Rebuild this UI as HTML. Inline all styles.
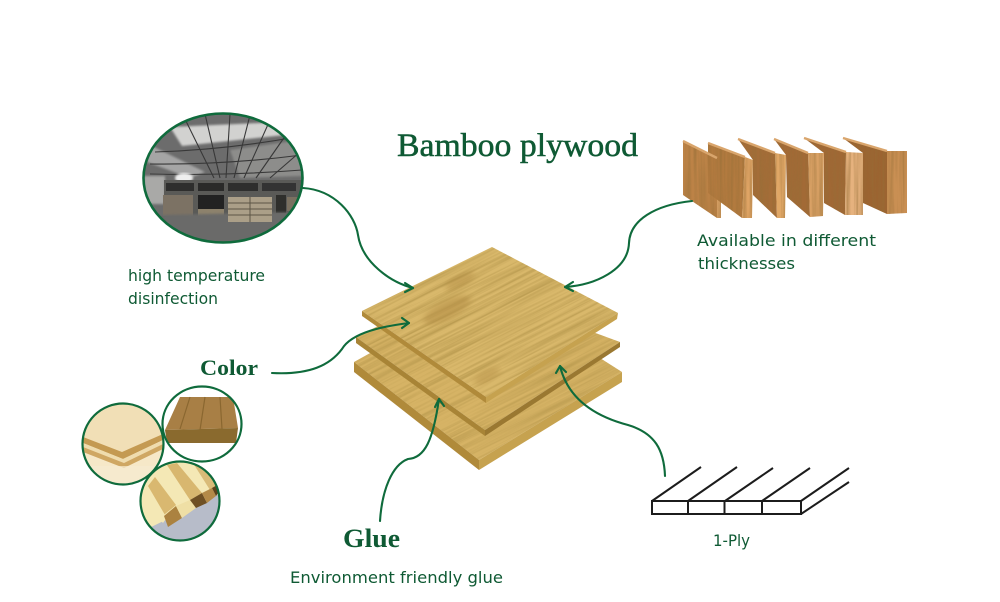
<!DOCTYPE html>
<html>
<head>
<meta charset="utf-8">
<style>
html,body{margin:0;padding:0;background:#fff;width:1000px;height:602px;overflow:hidden}
svg{display:block}
.h{font-family:"DejaVu Sans","Liberation Sans",sans-serif;font-size:16px;fill:#0f5a34}
.s{font-family:"Liberation Serif",serif;fill:#0f5a34}
.a{fill:none;stroke:#0f6b3c;stroke-width:2.1;stroke-linecap:round;stroke-linejoin:round}
.ply{fill:none;stroke:#1c1c1c;stroke-width:2}
</style>
</head>
<body>
<svg width="1000" height="602" viewBox="0 0 1000 602" xmlns="http://www.w3.org/2000/svg">
<defs>
<filter id="grain" x="0" y="0" width="100%" height="100%">
  <feTurbulence type="fractalNoise" baseFrequency="0.008 0.4" numOctaves="3" seed="4"/>
  <feColorMatrix values="0 0 0 0 0.45  0 0 0 0 0.30  0 0 0 0 0.07  2 0 0 0 -0.72"/>
</filter>
<filter id="vgrain" x="0" y="0" width="100%" height="100%">
  <feTurbulence type="fractalNoise" baseFrequency="0.35 0.012" numOctaves="2" seed="7"/>
  <feColorMatrix values="0 0 0 0 0.3  0 0 0 0 0.16  0 0 0 0 0.04  2 0 0 0 -0.72"/>
</filter>
<filter id="blur1"><feGaussianBlur stdDeviation="1"/></filter>
<filter id="blur3"><feGaussianBlur stdDeviation="3"/></filter>
<clipPath id="top"><polygon points="492,247 618,313 486,397 362,311"/></clipPath>
<clipPath id="mid"><polygon points="356,337 380,325 486,397 590,331 620,342 485,430"/></clipPath>
<clipPath id="bot"><polygon points="354,362 372,352 485,432 600,358 622,372 479,460"/></clipPath>
<clipPath id="c0"><ellipse cx="223" cy="178" rx="79" ry="64"/></clipPath>
<clipPath id="c1"><circle cx="123" cy="444" r="40"/></clipPath>
<clipPath id="c2"><ellipse cx="202" cy="424" rx="39" ry="37"/></clipPath>
<clipPath id="c3"><circle cx="180" cy="501" r="39"/></clipPath>
<clipPath id="planks"><path d="M683,141 L717,158 L721,160 L721,218 L717,218 L683,195Z M708,143 L745,157 L753,160 L752,218 L742,218 L708,193Z M738,139 L775,153 L786,155 L785,218 L777,218 L753,195 L753,160Z M774,139 L808,153 L824,153 L823,216 L810,217 L787,197 L786,155Z M804,138 L846,152 L863,153 L863,215 L845,215 L824,203 L824,153Z M843,138 L887,151 L907,151 L907,213 L887,214 L863,203 L863,153Z"/></clipPath>
</defs>

<rect width="1000" height="602" fill="#fff"/>

<text class="s" x="397" y="156" font-size="33" textLength="241" lengthAdjust="spacingAndGlyphs" stroke="#0f5a34" stroke-width=".5">Bamboo plywood</text>

<!-- factory -->
<g clip-path="url(#c0)">
  <rect x="144" y="114" width="158" height="128" fill="#6c6c6c"/>
  <polygon points="170,127 280,122 285,135 182,146" fill="#d2d2d0" filter="url(#blur1)"/>
  <polygon points="150,145 205,172 190,178 147,162" fill="#a5a5a5" filter="url(#blur1)"/>
  <polygon points="230,150 300,140 302,176 240,178" fill="#8d8d8b" filter="url(#blur1)"/>
  <g stroke="#383838" stroke-width="1.1" fill="none">
    <path d="M183,115 L214,178M205,114 L220,178M230,114 L226,178M250,115 L234,178M270,120 L244,178M288,132 L256,178M300,152 L270,178"/>
    <path d="M155,152 Q225,150 296,137M150,164 Q225,165 302,155M150,174 Q225,176 302,170"/>
  </g>
  <ellipse cx="184" cy="178" rx="9" ry="5" fill="#eee" filter="url(#blur1)"/>
  <rect x="144" y="176" width="21" height="28" fill="#a9a9a7" filter="url(#blur1)"/>
  <rect x="164" y="180" width="138" height="36" fill="#5a5a57"/>
  <rect x="166" y="183" width="28" height="8" fill="#2e2e2d"/>
  <rect x="198" y="183" width="26" height="8" fill="#2a2a29"/>
  <rect x="228" y="183" width="30" height="8" fill="#2e2e2d"/>
  <rect x="262" y="183" width="34" height="8" fill="#333"/>
  <rect x="198" y="195" width="26" height="14" fill="#222"/>
  <rect x="198" y="209" width="26" height="7" fill="#8d826c"/>
  <rect x="163" y="195" width="30" height="21" fill="#7c7264"/>
  <rect x="276" y="195" width="10" height="18" fill="#2f2f2c"/>
  <rect x="287" y="197" width="14" height="14" fill="#7a7060"/>
  <rect x="144" y="216" width="158" height="26" fill="#5f5f5d"/>
  <polygon points="160,215 300,212 270,242 180,242" fill="#6b6b69" filter="url(#blur1)"/>
  <rect x="228" y="197" width="44" height="25" fill="#ab9f88"/>
  <g stroke="#5c5546" stroke-width="1"><path d="M228,203H272M228,209H272M228,215H272M250,197V222"/></g>
</g>
<ellipse cx="223" cy="178" rx="79.5" ry="64.500" fill="none" stroke="#0f6b3c" stroke-width="2.6"/>

<!-- planks -->
<polygon points="683,141 717,158 717,218 683,195" fill="#bd8347"/>
<polygon points="717,158 721,160 721,218 717,218" fill="#dca468"/>
<polygon points="708,143 745,157 742,218 708,193" fill="#b27a3f"/>
<polygon points="745,157 753,160 752,218 742,218" fill="#dfa465"/>
<polygon points="738,139 775,153 777,218 753,195 753,160" fill="#a46d38"/>
<polygon points="775,153 786,155 785,218 777,218" fill="#e0a766"/>
<polygon points="774,139 808,153 810,217 787,197 786,155" fill="#a26a36"/>
<polygon points="808,153 824,153 823,216 810,217" fill="#d9a165"/>
<polygon points="804,138 846,152 845,215 824,203 824,153" fill="#a06835"/>
<polygon points="846,152 863,153 863,215 845,215" fill="#e6b27e"/>
<polygon points="843,138 887,151 887,214 863,203 863,153" fill="#9c6431"/>
<polygon points="887,151 907,151 907,213 887,214" fill="#c98f53"/>
<g clip-path="url(#planks)"><rect x="680" y="135" width="230" height="85" filter="url(#vgrain)" opacity=".6"/></g>
<path d="M683,141 L717,158 M708,143 L745,157 M738,139 L775,153 M774,139 L808,153 M804,138 L846,152 M843,138 L887,151" stroke="#d9a56c" stroke-width="2.4" fill="none"/>

<text class="h" x="697" y="246" textLength="179" lengthAdjust="spacingAndGlyphs">Available in different</text>
<text class="h" x="698" y="269" textLength="97" lengthAdjust="spacingAndGlyphs">thicknesses</text>
<text class="h" x="128" y="281" textLength="137" lengthAdjust="spacingAndGlyphs">high temperature</text>
<text class="h" x="128" y="304" textLength="90" lengthAdjust="spacingAndGlyphs">disinfection</text>

<!-- bottom board -->
<polygon points="354,362 372,352 485,432 600,358 622,372 479,460" fill="#d6b365"/>
<g clip-path="url(#bot)"><rect x="380" y="300" width="250" height="170" transform="rotate(-27 485 410)" filter="url(#grain)" opacity=".7"/></g>
<polygon points="354,362 479,460 479,470 354,372" fill="#b08a3a"/>
<polygon points="479,460 622,372 622,382 479,470" fill="#c6a24f"/>

<!-- middle board -->
<polygon points="356,337 380,325 486,397 590,331 620,342 485,430" fill="#d6b365"/>
<g clip-path="url(#mid)"><rect x="380" y="275" width="250" height="155" transform="rotate(-27 485 380)" filter="url(#grain)" opacity=".7"/></g>
<polygon points="356,337 485,430 485,436 356,343" fill="#a88436"/>
<polygon points="485,430 620,342 620,347 485,436" fill="#9a7831"/>

<!-- top board -->
<polygon points="492,247 618,313 486,397 362,311" fill="#d9b86b"/>
<g clip-path="url(#top)">
  <rect x="370" y="250" width="245" height="142" transform="rotate(-27 490 320)" filter="url(#grain)" opacity=".8"/>
  <ellipse cx="447" cy="310" rx="26" ry="9" transform="rotate(-27 447 310)" fill="#a8823a" opacity=".45" filter="url(#blur3)"/>
  <ellipse cx="460" cy="281" rx="16" ry="6" transform="rotate(-27 460 281)" fill="#a8823a" opacity=".4" filter="url(#blur3)"/>
  <ellipse cx="487" cy="376" rx="14" ry="6" transform="rotate(-27 487 376)" fill="#a8823a" opacity=".35" filter="url(#blur3)"/>
</g>
<polygon points="362,311 486,397 486,403 362,316" fill="#b08a3a"/>
<polygon points="486,397 618,313 617,319 486,403" fill="#c6a24f"/>

<!-- color circles -->
<g clip-path="url(#c1)">
  <rect x="83" y="404" width="80" height="80" fill="#f6e8c8"/>
  <polygon points="83,404 163,404 163,434 122,452 83,438" fill="#f1dfb6"/>
  <polygon points="83,437 122,452 163,434 163,440 123,459 83,443" fill="#c49a52"/>
  <polygon points="83,443 123,459 163,440 163,444 124,463 83,447" fill="#efdcae"/>
  <polygon points="83,447 124,463 163,444 163,449 124,468 83,452" fill="#cfa763"/>
  <rect x="83" y="466" width="80" height="18" fill="#f7ebd0" opacity=".7"/>
</g>
<circle cx="123" cy="444" r="40.5" fill="none" stroke="#0f6b3c" stroke-width="2.2"/>

<g clip-path="url(#c2)">
  <polygon points="165,430 180,397 233,397 238,428" fill="#a87f45"/>
  <polygon points="165,430 238,428 236,443 167,443" fill="#8a6a2e"/>
  <g stroke="#8a6730" stroke-width="1.2"><path d="M190,397L180,429M205,397L200,430M220,397L222,429"/></g>
</g>
<ellipse cx="202" cy="424" rx="39.500" ry="37.500" fill="none" stroke="#0f6b3c" stroke-width="2.2"/>

<g clip-path="url(#c3)">
  <rect x="141" y="462" width="78" height="78" fill="#f4e8b5"/>
  <polygon points="148,486 155,477 176,505 165,515" fill="#d9b870"/>
  <polygon points="167,465 177,463 202,493 190,500" fill="#d8b76f"/>
  <polygon points="193,463 202,465 218,485 210,490" fill="#d9bb78"/>
  <polygon points="145,530 219,494 219,540 150,540" fill="#b7bcc9"/>
  <polygon points="163,523 175,506 165,514 160,520" fill="#f4e8b5"/>
  <polygon points="164,516 176,506 182,518 168,527" fill="#ab8240"/>
  <polygon points="176,506 190,500 196,508 182,518" fill="#efdfa5"/>
  <polygon points="190,500 202,493 207,503 196,508" fill="#6f5024"/>
  <polygon points="202,493 212,488 216,496 207,503" fill="#b48a48"/>
  <polygon points="212,488 219,484 219,492 216,496" fill="#5e421c"/>
</g>
<circle cx="180" cy="501" r="39.500" fill="none" stroke="#0f6b3c" stroke-width="2.2"/>

<text class="s" x="200" y="375" font-size="22" font-weight="bold" textLength="58" lengthAdjust="spacingAndGlyphs">Color</text>
<text class="s" x="343" y="547" font-size="26" font-weight="bold" textLength="57" lengthAdjust="spacingAndGlyphs">Glue</text>
<text class="h" x="290" y="583" textLength="213" lengthAdjust="spacingAndGlyphs">Environment friendly glue</text>
<text class="h" x="713" y="546" textLength="37" lengthAdjust="spacingAndGlyphs">1-Ply</text>

<!-- ply diagram -->
<g class="ply">
  <rect x="652" y="501" width="149" height="13"/>
  <path d="M688,501V514M724.500,501V514M762,501V514"/>
  <path d="M652,501L701,467M688,501L737,467M725,501L773,468M762,501L810,468M801,501L849,468M801,514L849,482"/>
</g>

<!-- arrows -->
<g class="a">
  <path d="M303,188 C335,190 355,215 358,235 C362,262 390,282 413,288"/>
  <path d="M405,283 L413,288 L405,292"/>
  <path d="M692,201 C655,205 630,220 629,243 C628,270 595,285 565,287"/>
  <path d="M573,282 L565,287 L573,291"/>
  <path d="M272,373 C310,375 330,365 342,349 C352,332 385,326 409,323"/>
  <path d="M402,318 L409,323 L402,328"/>
  <path d="M665,476 C664,450 655,433 628,425 C590,415 567,395 560,366"/>
  <path d="M556,373 L560,366 L566,372"/>
  <path d="M380,521 C382,490 392,465 408,459 C425,458 433,440 439,399"/>
  <path d="M435,407 L439,399 L444,406"/>
</g>
</svg>
</body>
</html>
